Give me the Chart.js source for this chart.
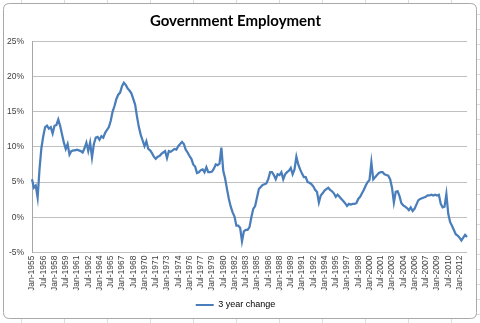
<!DOCTYPE html>
<html>
<head>
<meta charset="utf-8">
<title>Government Employment</title>
<script src="https://cdn.jsdelivr.net/npm/chart.js@4.4.0/dist/chart.umd.min.js"></script>
<style>
    html, body { margin: 0; padding: 0; background: #ffffff; }
    #govChart { display: block; }
</style>
</head>
<body>
<canvas id="govChart" width="480" height="323"></canvas>
<script>
// 3 year change in government employment, %, one value per quarter from Jan-1955
var threeYearChange = [
    5.4, 4.2, 4.5, 2.8, 6.8, 9.8, 11.5, 12.8, 13.0, 12.6,
    12.8, 11.9, 13.0, 13.1, 13.9, 13.0, 11.8, 10.6, 9.7, 10.4,
    8.9, 9.4, 9.5, 9.5, 9.6, 9.5, 9.4, 9.2, 9.8, 10.6,
    9.4, 10.6, 8.5, 10.4, 11.3, 11.4, 11.0, 11.5, 11.3, 12.0,
    12.4, 12.8, 13.7, 15.0, 15.8, 16.8, 17.4, 17.7, 18.6, 19.1,
    18.8, 18.3, 18.0, 17.6, 16.8, 16.0, 14.3, 12.8, 11.7, 10.9,
    10.1, 10.8, 9.7, 9.5, 9.1, 8.6, 8.3, 8.6, 8.7, 9.0,
    9.2, 9.4, 8.4, 9.4, 9.3, 9.5, 9.7, 9.6, 10.1, 10.4,
    10.7, 10.4, 9.6, 9.2, 8.7, 8.3, 7.5, 7.2, 6.3, 6.4,
    6.7, 6.8, 6.4, 7.1, 6.4, 6.4, 6.5, 6.9, 7.5, 7.4,
    7.6, 9.9, 6.6, 5.5, 4.0, 2.6, 1.5, 0.7, 0.1, -1.2,
    -1.2, -1.5, -3.4, -2.0, -1.8, -1.8, -1.4, 0.0, 1.2, 1.6,
    2.8, 4.0, 4.3, 4.6, 4.7, 4.8, 5.4, 6.4, 6.4, 6.0,
    5.4, 6.1, 6.0, 6.4, 5.4, 6.1, 6.4, 6.6, 7.0, 6.1,
    6.8, 8.6, 7.5, 6.8, 6.2, 5.7, 5.7, 5.0, 4.9, 4.7,
    4.4, 3.9, 3.6, 2.1, 3.1, 3.4, 3.8, 4.0, 4.2, 3.9,
    3.7, 3.4, 2.9, 3.2, 2.9, 2.6, 2.3, 2.0, 1.6, 1.9,
    1.8, 1.9, 1.9, 2.0, 2.6, 2.9, 3.4, 3.9, 4.5, 5.0,
    5.3, 7.8, 5.4, 5.7, 6.0, 6.3, 6.4, 6.4, 6.1, 6.0,
    5.9, 5.4, 4.2, 2.1, 3.6, 3.7, 3.0, 2.0, 1.7, 1.5,
    1.3, 1.0, 1.4, 0.9, 1.2, 1.8, 2.4, 2.6, 2.7, 2.8,
    2.9, 3.1, 3.1, 3.2, 3.1, 3.2, 3.1, 3.2, 1.9, 1.4,
    1.5, 3.3, 0.5, -0.7, -1.2, -1.8, -2.4, -2.6, -2.9, -3.3,
    -2.9, -2.5, -2.8
];

var firstYear = 1955;
var quarterMonths = ['Jan', 'Apr', 'Jul', 'Oct'];
var yTicks = [-5, 0, 5, 10, 15, 20, 25];
var labelEvery = 6; // a label every 18 months

var quarterLabels = [];
for (var i = 0; i < threeYearChange.length; i++) {
    quarterLabels.push(quarterMonths[i % 4] + '-' + (firstYear + Math.floor(i / 4)));
}

var lineColor = '#4a7ebb';
var textColor = '#404040';

// white excel chart object sitting on the sheet
var excelFrame = {
    id: 'excelFrame',
    beforeDraw: function (chart) {
        var ctx = chart.ctx;
        var w = chart.width, h = chart.height;
        ctx.save();
        ctx.fillStyle = '#ffffff';
        ctx.fillRect(0, 0, w, h);

        ctx.strokeStyle = '#dadcdd';
        ctx.lineWidth = 1;
        for (var x = 21.5; x < w; x += 43) {
            ctx.beginPath();
            ctx.moveTo(x, 0); ctx.lineTo(x, 4);
            ctx.moveTo(x, 318); ctx.lineTo(x, h);
            ctx.stroke();
        }
        for (var y = 14.5; y < h; y += 15) {
            ctx.beginPath();
            ctx.moveTo(476, y); ctx.lineTo(w, y);
            ctx.stroke();
        }

        var r = 6, x0 = 3.5, y0 = 3.5, x1 = 476.5, y1 = 318.5;
        ctx.beginPath();
        ctx.moveTo(x0 + r, y0);
        ctx.lineTo(x1 - r, y0);
        ctx.quadraticCurveTo(x1, y0, x1, y0 + r);
        ctx.lineTo(x1, y1 - r);
        ctx.quadraticCurveTo(x1, y1, x1 - r, y1);
        ctx.lineTo(x0 + r, y1);
        ctx.quadraticCurveTo(x0, y1, x0, y1 - r);
        ctx.lineTo(x0, y0 + r);
        ctx.quadraticCurveTo(x0, y0, x0 + r, y0);
        ctx.closePath();
        ctx.fillStyle = '#ffffff';
        ctx.fill();
        ctx.strokeStyle = '#a9a9a9';
        ctx.stroke();
        ctx.restore();
    }
};

var ctx = document.getElementById('govChart').getContext('2d');

var govChart = new Chart(ctx, {
    type: 'line',
    data: {
        labels: quarterLabels,
        datasets: [{
            label: '3 year change',
            data: threeYearChange,
            borderColor: lineColor,
            backgroundColor: lineColor,
            borderWidth: 2.25,
            pointRadius: 0,
            tension: 0,
            fill: false
        }]
    },
    options: {
        responsive: false,
        animation: false,
        devicePixelRatio: 1,
        layout: { padding: { left: 4, right: 13, top: 0, bottom: 3.5 } },
        plugins: {
            title: {
                display: true,
                text: 'Government Employment',
                color: '#000000',
                font: { family: 'Lato', weight: 'bold', size: 15 },
                padding: { top: 12.5, bottom: 10.7 }
            },
            legend: {
                position: 'bottom',
                labels: {
                    boxWidth: 18,
                    boxHeight: 2,
                    padding: 10,
                    color: textColor,
                    font: { family: 'Liberation Sans', size: 9 },
                    generateLabels: function (chart) {
                        return chart.data.datasets.map(function (ds, k) {
                            return {
                                text: ds.label,
                                fillStyle: ds.borderColor,
                                strokeStyle: 'rgba(0,0,0,0)',
                                lineWidth: 1,
                                hidden: false,
                                datasetIndex: k
                            };
                        });
                    }
                }
            },
            tooltip: { enabled: false }
        },
        scales: {
            x: {
                type: 'category',
                offset: false,
                grid: { display: false, drawTicks: false },
                border: { display: false },
                ticks: {
                    autoSkip: false,
                    minRotation: 90,
                    maxRotation: 90,
                    padding: 3,
                    color: textColor,
                    font: { family: 'Liberation Sans', size: 8.5 },
                    callback: function (val, idx) {
                        return idx % labelEvery === 0 ? this.getLabelForValue(val) : null;
                    }
                },
                afterFit: function (scale) { scale.height = 38; }
            },
            y: {
                min: yTicks[0],
                max: yTicks[yTicks.length - 1],
                afterBuildTicks: function (scale) {
                    scale.ticks = yTicks.map(function (v) { return { value: v }; });
                },
                grid: { color: '#c0c0c0', lineWidth: 1, drawTicks: false },
                border: { display: true, color: '#a6a6a6' },
                ticks: {
                    padding: 8,
                    color: textColor,
                    font: { family: 'Liberation Sans', size: 8.5 },
                    callback: function (v) { return v + '%'; }
                },
                afterFit: function (scale) { scale.width = 28; }
            }
        }
    },
    plugins: [excelFrame]
});
</script>
</body>
</html>
